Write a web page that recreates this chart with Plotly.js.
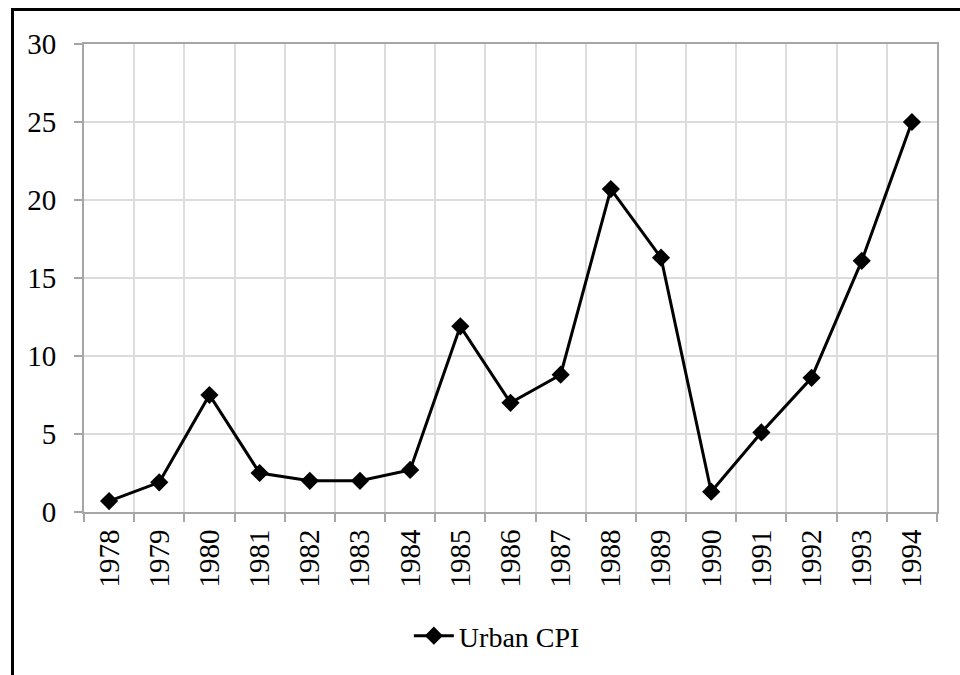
<!DOCTYPE html>
<html>
<head>
<meta charset="utf-8">
<script src="https://cdn.plot.ly/plotly-3.0.1.min.js"></script>
<style>
html,body{margin:0;padding:0;background:#fff;}
#wrap{position:relative;width:960px;height:675px;overflow:hidden;}
#chart{position:absolute;left:0;top:0;width:960px;height:675px;}
#frame{position:absolute;left:11px;top:8px;width:960px;height:700px;border-left:3px solid #000;border-top:3px solid #000;pointer-events:none;}
</style>
</head>
<body>
<div id="wrap"><div id="chart"></div><div id="frame"></div></div>
<script>
const years = ["1978","1979","1980","1981","1982","1983","1984","1985","1986","1987","1988","1989","1990","1991","1992","1993","1994"];
const urbanCPI = [0.7,1.9,7.5,2.5,2.0,2.0,2.7,11.9,7.0,8.8,20.7,16.3,1.3,5.1,8.6,16.1,25.0];
const yTicks = [0,5,10,15,20,25,30];

const fontFam = "Liberation Serif, DejaVu Serif, serif";
const trace = {
  type: "scatter",
  mode: "lines+markers",
  x: years,
  y: urbanCPI,
  name: "Urban CPI",
  line: {color: "#000", width: 3},
  marker: {symbol: "diamond", size: 14, color: "#000"}
};
const layout = {
  width: 960, height: 675,
  margin: {l: 84, r: 23, t: 44, b: 163},
  paper_bgcolor: "#fff", plot_bgcolor: "#fff",
  font: {family: fontFam, size: 29, color: "#000"},
  showlegend: true,
  legend: {orientation: "h", x: 0.484, xanchor: "center", y: -0.265, yanchor: "middle",
           itemwidth: 40,
           font: {family: fontFam, size: 28, color: "#000"}},
  xaxis: {
    type: "category",
    range: [-0.5, years.length - 0.5],
    tickangle: -90,
    tickson: "boundaries",
    ticks: "outside", ticklen: 8, tickwidth: 2, tickcolor: "#a6a6a6",
    ticklabelstandoff: 4,
    showline: true, linecolor: "#a6a6a6", linewidth: 2, mirror: true,
    showgrid: true, gridcolor: "#dcdcdc", gridwidth: 2,
    tickfont: {family: fontFam, size: 29, color: "#000"}
  },
  yaxis: {
    range: [0, 30],
    tickvals: yTicks,
    ticktext: yTicks.map(String),
    ticks: "outside", ticklen: 8, tickwidth: 2, tickcolor: "#a6a6a6",
    ticklabelstandoff: 12,
    showline: true, linecolor: "#a6a6a6", linewidth: 2, mirror: true,
    showgrid: true, gridcolor: "#dcdcdc", gridwidth: 2,
    zeroline: false,
    tickfont: {family: fontFam, size: 29, color: "#000"}
  }
};
Plotly.newPlot("chart", [trace], layout, {displayModeBar: false, staticPlot: true});
</script>
</body>
</html>
